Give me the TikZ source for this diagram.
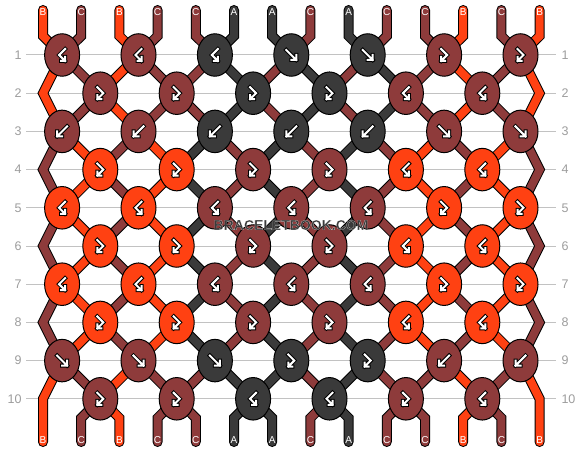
\documentclass[tikz,border=0pt]{standalone}
\usepackage{fontspec}
\setmainfont{Liberation Sans}
\usetikzlibrary{shapes.geometric}
\pgfdeclarelayer{bg}
\pgfsetlayers{bg,main}

\definecolor{colA}{HTML}{3A3A3A}
\definecolor{colB}{HTML}{FF4112}
\definecolor{colC}{HTML}{8E3B3B}
\definecolor{rulegray}{HTML}{C2C2C2}
\definecolor{numgray}{HTML}{9C9C9C}

\tikzset{
  knot/.style={ellipse, draw=black, line width=1pt, minimum width=35pt,
    minimum height=42.5pt, inner sep=0pt},
  strand/.style={draw=black, line width=1pt, double=col#1,
    double distance=8pt, line cap=round},
  symout/.style={draw=black, line width=4pt, line cap=rect},
  symin/.style={draw=white, line width=2pt, line cap=rect},
  rownum/.style={text=numgray, font=\fontsize{12.5}{14}\selectfont, inner sep=1.5pt},
  strlabel/.style={text=white, font=\fontsize{10}{11}\selectfont, inner sep=0pt},
  rowline/.style={draw=rulegray, line width=1pt}
}

% knot symbols, relative to the knot centre
\def\symfw{+(-5,-5) -- +(5,5) +(0,5) -- +(5,5) -- +(5,0)}
\def\symbw{+(5,-5) -- +(-5,5) +(0,5) -- +(-5,5) -- +(-5,0)}
\def\symfb{+(-3,-6) -- +(3,0) -- +(-3,6) +(1,6) -- +(-3,6) -- +(-3,2)}
\def\symbf{+(3,-6) -- +(-3,0) -- +(3,6) +(-1,6) -- +(3,6) -- +(3,2)}
% white rim round the watermark letters
\newcommand\rimtext[1]{\special{pdf:literal direct 2 Tr 0.085 w 1 1 1 RG}#1\special{pdf:literal direct 0 Tr}}

\begin{document}
\begin{tikzpicture}[x=1pt, y=-1pt]
    \useasboundingbox (0,0) rectangle (582,452);

    % row numbers
    \foreach \r in {1,...,10} {
        \node[rownum, anchor=east, outer sep=3pt] (nl-\r) at (26, {55+38.2*(\r-1)}) {\r};
        \node[rownum, anchor=west, outer sep=4pt] (nr-\r) at (556, {55+38.2*(\r-1)}) {\r};
    }

    % string ends
    \foreach \s [count=\p from 0] in {B,C,B,C,C,A,A,C,A,C,C,B,C,B} {
        \coordinate (t-\p) at ({43+38.2*\p}, 10);
        \coordinate (tb-\p) at ({43+38.2*\p}, 36);
        \coordinate (bb-\p) at ({43+38.2*\p}, 418);
        \coordinate (b-\p) at ({43+38.2*\p}, 442);
        \node[strlabel] (lt-\p) at ({43+38.2*\p}, 12.5) {\s};
        \node[strlabel] (lb-\p) at ({43+38.2*\p}, 440) {\s};
    }
    \foreach \e in {2,4,...,10} {
        \coordinate (el-\e) at (43, {55+38.2*(\e-1)});
        \coordinate (er-\e) at (539.6, {55+38.2*(\e-1)});
    }

    % knots: colour/symbol
    \foreach \r/\knots in {
        1/{C/bf,C/bf,A/bf,A/fw,A/fw,C/fb,C/fb},
        2/{C/fb,C/fb,A/fb,A/fb,C/bf,C/bf},
        3/{C/bw,C/bw,A/bw,A/bw,A/bw,C/fw,C/fw},
        4/{B/fb,B/fb,C/fb,C/fb,B/bf,B/bf},
        5/{B/bf,B/bf,C/bf,C/bf,C/bf,B/fb,B/fb},
        6/{B/fb,B/fb,C/fb,C/fb,B/bf,B/bf},
        7/{B/bf,B/bf,C/bf,C/bf,C/bf,B/fb,B/fb},
        8/{B/fb,B/fb,C/fb,C/fb,B/bf,B/bf},
        9/{C/fw,C/fw,A/fw,A/fb,A/fb,C/bw,C/bw},
        10/{C/fb,C/fb,A/bf,A/bf,C/fb,C/bf}} {
        \pgfmathsetmacro{\off}{isodd(\r) ? 1.5 : 0.5}
        \foreach \c/\t [count=\j] in \knots {
            \node[knot, fill=col\c] (k-\r-\j) at ({43+38.2*(2*\j-\off)}, {55+38.2*(\r-1)}) {};
            \draw[symout] (k-\r-\j) \csname sym\t\endcsname;
            \draw[symin] (k-\r-\j) \csname sym\t\endcsname;
        }
    }

    \begin{pgfonlayer}{bg}
    \foreach \r in {1,...,10}
        \draw[rowline] (nl-\r) -- (nr-\r);

    % from the top into row 1
    \foreach \s [count=\p from 0] in {B,C,B,C,C,A,A,C,A,C,C,B,C,B} {
        \pgfmathtruncatemacro{\j}{div(\p,2)+1}
        \draw[strand=\s] (t-\p) -- (tb-\p) -- (k-1-\j.center);
    }

    % in and out of the even rows
    \foreach \e/\pairs in {
        2/{C/B,C/C,A/C,A/C,A/C,B/C},
        4/{B/C,B/A,C/A,C/A,C/B,C/B},
        6/{B/C,B/A,C/A,C/A,C/B,C/B},
        8/{B/C,B/A,C/A,C/A,C/B,C/B},
        10/{C/B,C/C,A/A,C/A,C/C,B/C}} {
        \pgfmathtruncatemacro{\ea}{\e-1}
        \pgfmathtruncatemacro{\eb}{\e+1}
        \foreach \cl/\cr [count=\j] in \pairs {
            \pgfmathtruncatemacro{\jj}{\j+1}
            \pgfmathtruncatemacro{\slotl}{2*\j-1}
            \pgfmathtruncatemacro{\slotr}{2*\j}
            \draw[strand=\cl] (k-\ea-\j.center) -- (k-\e-\j.center);
            \draw[strand=\cr] (k-\ea-\jj.center) -- (k-\e-\j.center);
            \ifnum\e<10
                \draw[strand=\cl] (k-\e-\j.center) -- (k-\eb-\j.center);
                \draw[strand=\cr] (k-\e-\j.center) -- (k-\eb-\jj.center);
            \else
                \draw[strand=\cl] (k-\e-\j.center) -- (bb-\slotl) -- (b-\slotl);
                \draw[strand=\cr] (k-\e-\j.center) -- (bb-\slotr) -- (b-\slotr);
            \fi
        }
    }

    % outer strings bouncing at the sides
    \foreach \ra/\e/\rb/\c in {1/2/3/B, 3/4/5/C, 5/6/7/C, 7/8/9/C} {
        \draw[strand=\c] (k-\ra-1.center) -- (el-\e) -- (k-\rb-1.center);
        \draw[strand=\c] (k-\ra-7.center) -- (er-\e) -- (k-\rb-7.center);
    }
    \draw[strand=B] (k-9-1.center) -- (el-10) -- (b-0);
    \draw[strand=B] (k-9-7.center) -- (er-10) -- (b-13);
    \end{pgfonlayer}

    \node[text=colA, font=\bfseries\fontsize{14}{16}\selectfont] (wm) at (291, 225)
        {\rimtext{BRACELETBOOK.COM}};

\end{tikzpicture}
\end{document}
